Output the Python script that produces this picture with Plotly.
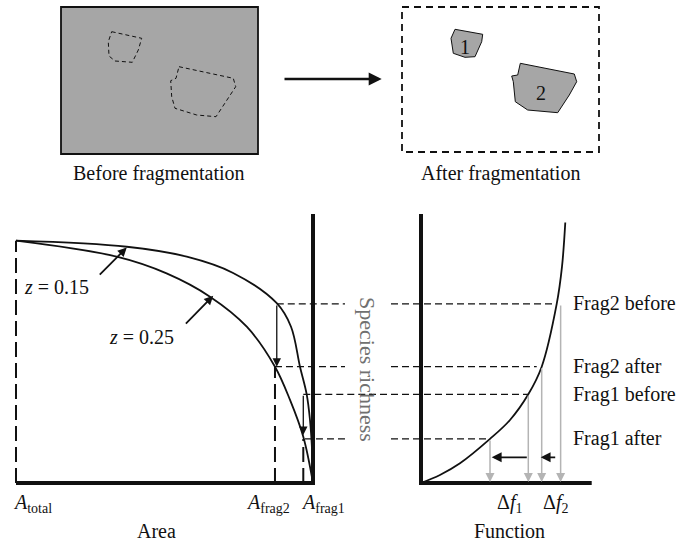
import plotly.graph_objects as go

W, H = 684, 544

# ---------------- data ----------------
# species-area curves: area as fraction of A_total, richness as fraction of S_total
AREA_Z015 = [1.0, 0.627, 0.425, 0.269, 0.122, 0.074, 0.0438, 0.0212, 0.0101, 0.0024, 0.0]
RICH_Z015 = [1.0, 0.975, 0.934, 0.867, 0.742, 0.645, 0.480, 0.366, 0.260, 0.116, 0.0]
AREA_Z025 = [1.0, 0.661, 0.493, 0.347, 0.223, 0.128, 0.0774, 0.0327, 0.0]
RICH_Z025 = [1.0, 0.934, 0.865, 0.769, 0.645, 0.480, 0.343, 0.191, 0.0]

# ecosystem function vs species richness
FUNC_CURVE = [0.0, 0.111, 0.2285, 0.4042, 0.5214, 0.6286, 0.7071, 0.7950, 0.8260, 0.8453]
RICH_FUNC = [0.0, 0.033, 0.0813, 0.182, 0.260, 0.366, 0.480, 0.739, 0.893, 1.075]

# richness levels before / after fragmentation
LEVEL_LABELS = ["Frag2 before", "Frag2 after", "Frag1 before", "Frag1 after"]
LEVEL_RICH = [0.739, 0.480, 0.366, 0.182]
LEVEL_AREA = [0.122, 0.128, 0.0327, 0.027]
LEVEL_FUNC_END = [0.795, 0.678, 0.6286, 0.4042]
LEVEL_FUNC_ARROW = [0.818, 0.7071, 0.6286, 0.4042]
LEVEL_GAP = [True, True, False, True]

# fragment areas
AREA_TICKS = [1.0, 0.128, 0.0327]
AREA_TICK_LABELS = ["<i>A</i><sub>total</sub>", "<i>A</i><sub>frag2</sub>", "<i>A</i><sub>frag1</sub>"]
AREA_TICK_LABEL_POS = [0.943, 0.152, -0.034]
AREA_TICK_TOP = [1.0, 0.480, 0.182]

# richness loss arrows (left panel)
LOSS_AREA = [0.122, 0.0327]
LOSS_FROM = [0.739, 0.366]
LOSS_TO = [0.480, 0.198]

# function loss arrows (right panel)
DELTA_LABELS = ["Δ<i>f</i><sub>1</sub>", "Δ<i>f</i><sub>2</sub>"]
DELTA_LABEL_POS = [0.5155, 0.789]
DELTA_FROM = [0.6286, 0.795]
DELTA_TO = [0.4142, 0.7012]
DELTA_RICH = 0.106

# z annotations
Z_LABELS = ["<i>z</i> = 0.15", "<i>z</i> = 0.25"]
Z_LABEL_AREA = [0.863, 0.577]
Z_LABEL_RICH = [0.810, 0.604]
Z_TAIL_AREA = [0.723, 0.433]
Z_TAIL_RICH = [0.854, 0.652]
Z_HEAD_AREA = [0.627, 0.336]
Z_HEAD_RICH = [0.972, 0.773]

# top schematic (map units)
BOX_BEFORE = [61, 7, 258, 154]
BOX_AFTER = [402, 7, 599, 152]
HOLE1_X = [111.7, 141.7, 138.3, 132.3, 115, 109, 108.3, 111.7]
HOLE1_Y = [31.7, 38.3, 50, 62.3, 61, 56, 41.7, 31.7]
HOLE2_X = [179, 233.3, 235.7, 225, 216, 196.7, 175, 171.7, 170.7, 176, 179]
HOLE2_Y = [66.7, 78.3, 86.7, 103.3, 116.7, 115, 108.3, 96.7, 80.7, 78.3, 66.7]
PATCH1_X = [455, 482.7, 481.7, 475, 465, 453.3, 451, 452.7, 455]
PATCH1_Y = [29.3, 34.3, 41.7, 56.7, 57.3, 53.3, 38.3, 35, 29.3]
PATCH2_X = [520.3, 574.3, 576.7, 569.3, 557.7, 527.7, 515.3, 513.3, 511.7, 517.7, 520.3]
PATCH2_Y = [63.3, 74, 81.7, 95, 112.7, 110, 101.7, 81.7, 76, 75, 63.3]
PATCH_LABELS = ["1", "2"]
PATCH_LABEL_X = [465, 541]
PATCH_LABEL_Y = [46.7, 93.3]
MAP_ARROW = [283, 381.7, 79]
CAPTIONS = ["Before fragmentation", "After fragmentation"]
CAPTION_X = [159, 500.5]
CAPTION_Y = 173

# ---------------- layout anchors (pixels) ----------------
PX_A0, PX_A1 = 313.0, 16.0      # area 0 / area total
PY_S0, PY_S1 = 483.0, 240.7     # richness 0 / total
PX_F0, PX_F1 = 421.0, 591.7     # function 0 / 1
AXIS_TOP = (PY_S0 - 214) / (PY_S0 - PY_S1)
GAP_AREA = (PX_A0 - 345) / (PX_A0 - PX_A1)
GAP_FUNC = (391 - PX_F0) / (PX_F1 - PX_F0)
JOIN_AREA = (PX_A0 - 372) / (PX_A0 - PX_A1)
JOIN_FUNC = (369 - PX_F0) / (PX_F1 - PX_F0)
LABEL_ROW = (PY_S0 - 503) / (PY_S0 - PY_S1)
TITLE_ROW = (PY_S0 - 531) / (PY_S0 - PY_S1)

x_range = [(PX_A0 - 0) / (PX_A0 - PX_A1), (PX_A0 - W) / (PX_A0 - PX_A1)]
y_range = [(PY_S0 - H) / (PY_S0 - PY_S1), PY_S0 / (PY_S0 - PY_S1)]
x2_range = [(0 - PX_F0) / (PX_F1 - PX_F0), (W - PX_F0) / (PX_F1 - PX_F0)]

FONT = "Liberation Serif"
BLACK = "#111111"
GRAY = "#b4b4b4"

fig = go.Figure()

def line(x, y, xaxis="x", yaxis="y", color=BLACK, width=1.8, dash="solid", shape="linear", fill=None, fillcolor=None):
    fig.add_trace(go.Scatter(
        x=x, y=y, xaxis=xaxis, yaxis=yaxis, mode="lines",
        line=dict(color=color, width=width, dash=dash, shape=shape, smoothing=1.0),
        fill=fill, fillcolor=fillcolor, hoverinfo="skip", showlegend=False))

# ---- top schematic ----
fig.add_shape(type="rect", xref="x3", yref="y3",
              x0=BOX_BEFORE[0], y0=BOX_BEFORE[1], x1=BOX_BEFORE[2], y1=BOX_BEFORE[3],
              fillcolor="#a6a6a6", line=dict(color=BLACK, width=1.8), layer="below")
fig.add_shape(type="rect", xref="x3", yref="y3",
              x0=BOX_AFTER[0], y0=BOX_AFTER[1], x1=BOX_AFTER[2], y1=BOX_AFTER[3],
              fillcolor="rgba(0,0,0,0)", line=dict(color=BLACK, width=1.8, dash="7px,5px"), layer="below")
line(HOLE1_X, HOLE1_Y, "x3", "y3", width=1.0, dash="4px,3px")
line(HOLE2_X, HOLE2_Y, "x3", "y3", width=1.0, dash="4px,3px")
line(PATCH1_X, PATCH1_Y, "x3", "y3", width=1.0, fill="toself", fillcolor="#a6a6a6")
line(PATCH2_X, PATCH2_Y, "x3", "y3", width=1.0, fill="toself", fillcolor="#a6a6a6")

ann = []
for lab, px, py in zip(PATCH_LABELS, PATCH_LABEL_X, PATCH_LABEL_Y):
    ann.append(dict(x=px, y=py, xref="x3", yref="y3", text=lab, showarrow=False,
                    font=dict(family=FONT, size=20, color=BLACK)))
for lab, px in zip(CAPTIONS, CAPTION_X):
    ann.append(dict(x=px, y=CAPTION_Y, xref="x3", yref="y3", text=lab, showarrow=False,
                    font=dict(family=FONT, size=20, color=BLACK)))
ann.append(dict(x=MAP_ARROW[1], y=MAP_ARROW[2], ax=MAP_ARROW[0], ay=MAP_ARROW[2],
                xref="x3", yref="y3", axref="x3", ayref="y3", text="", showarrow=True,
                arrowhead=2, arrowsize=1.0, arrowwidth=2.6, arrowcolor=BLACK))

# ---- left panel: species-area ----
line(AREA_Z015, RICH_Z015, shape="spline")
line(AREA_Z025, RICH_Z025, shape="spline")
for a, top in zip(AREA_TICKS, AREA_TICK_TOP):
    line([a, a], [0, top], width=2.0, dash="15px,6px")
line([AREA_TICKS[0], 0, 0], [0, 0, AXIS_TOP], width=4)

# ---- right panel: function ----
line(FUNC_CURVE, RICH_FUNC, "x2", "y", shape="spline")
line([0, 0, 1], [AXIS_TOP, 0, 0], "x2", "y", width=4)

# ---- richness levels ----
for lab, s, a, fe, gap in zip(LEVEL_LABELS, LEVEL_RICH, LEVEL_AREA, LEVEL_FUNC_END, LEVEL_GAP):
    if gap:
        line([a, GAP_AREA], [s, s], width=1.3, dash="7px,4px")
        line([GAP_FUNC, fe], [s, s], "x2", "y", width=1.3, dash="7px,4px")
    else:
        line([a, JOIN_AREA], [s, s], width=1.3, dash="7px,4px")
        line([JOIN_FUNC, fe], [s, s], "x2", "y", width=1.3, dash="7px,4px")
    ann.append(dict(x=1.0, y=s, xref="x2", yref="y", text=lab, showarrow=False,
                    xanchor="left", xshift=(571 - PX_F1),
                    font=dict(family=FONT, size=20, color=BLACK)))

for fa, s in zip(LEVEL_FUNC_ARROW, LEVEL_RICH):
    ann.append(dict(x=fa, y=0, ax=fa, ay=s, xref="x2", yref="y", axref="x2", ayref="y",
                    text="", showarrow=True, arrowhead=2, arrowsize=1.2, arrowwidth=1.5,
                    arrowcolor=GRAY, standoff=1))

for a, s0, s1 in zip(LOSS_AREA, LOSS_FROM, LOSS_TO):
    ann.append(dict(x=a, y=s1, ax=a, ay=s0, xref="x", yref="y", axref="x", ayref="y",
                    text="", showarrow=True, arrowhead=2, arrowsize=1.3, arrowwidth=1.3,
                    arrowcolor=BLACK))

for f0, f1 in zip(DELTA_FROM, DELTA_TO):
    ann.append(dict(x=f1, y=DELTA_RICH, ax=f0, ay=DELTA_RICH, xref="x2", yref="y",
                    axref="x2", ayref="y", text="", showarrow=True, arrowhead=2,
                    arrowsize=1.1, arrowwidth=1.8, arrowcolor=BLACK))

for lab, x, y, tx, ty, hx, hy in zip(Z_LABELS, Z_LABEL_AREA, Z_LABEL_RICH, Z_TAIL_AREA,
                                     Z_TAIL_RICH, Z_HEAD_AREA, Z_HEAD_RICH):
    ann.append(dict(x=x, y=y, xref="x", yref="y", text=lab, showarrow=False,
                    font=dict(family=FONT, size=20, color=BLACK)))
    ann.append(dict(x=hx, y=hy, ax=tx, ay=ty, xref="x", yref="y", axref="x", ayref="y",
                    text="", showarrow=True, arrowhead=2, arrowsize=1.0, arrowwidth=1.8,
                    arrowcolor=BLACK))

for lab, x in zip(AREA_TICK_LABELS, AREA_TICK_LABEL_POS):
    ann.append(dict(x=x, y=LABEL_ROW, xref="x", yref="y", text=lab, showarrow=False,
                    font=dict(family=FONT, size=20, color=BLACK)))
for lab, x in zip(DELTA_LABELS, DELTA_LABEL_POS):
    ann.append(dict(x=x, y=LABEL_ROW, xref="x2", yref="y", text=lab, showarrow=False,
                    font=dict(family=FONT, size=20, color=BLACK)))
ann.append(dict(x=0.526, y=TITLE_ROW, xref="x", yref="y", text="Area", showarrow=False,
                font=dict(family=FONT, size=20, color=BLACK)))
ann.append(dict(x=0.521, y=TITLE_ROW, xref="x2", yref="y", text="Function", showarrow=False,
                font=dict(family=FONT, size=20, color=BLACK)))
ann.append(dict(x=368, y=369, xref="x3", yref="y3", text="Species richness", showarrow=False,
                textangle=90, font=dict(family=FONT, size=22, color="#707070")))

hidden = dict(visible=False, showgrid=False, zeroline=False, fixedrange=True)
fig.update_layout(
    width=W, height=H, autosize=False,
    margin=dict(l=0, r=0, t=0, b=0, pad=0),
    paper_bgcolor="white", plot_bgcolor="white",
    showlegend=False, hovermode=False,
    xaxis=dict(range=x_range, domain=[0, 1], **hidden),
    yaxis=dict(range=y_range, domain=[0, 1], **hidden),
    xaxis2=dict(range=x2_range, domain=[0, 1], overlaying="x", anchor="y", **hidden),
    xaxis3=dict(range=[0, W], domain=[0, 1], overlaying="x", anchor="y3", **hidden),
    yaxis3=dict(range=[H, 0], domain=[0, 1], overlaying="y", anchor="x3", **hidden),
    annotations=ann,
)

fig.write_html(
    "out.html",
    config={"displayModeBar": False},
    post_script="document.body.style.margin='0';document.body.style.overflow='hidden';",
)
